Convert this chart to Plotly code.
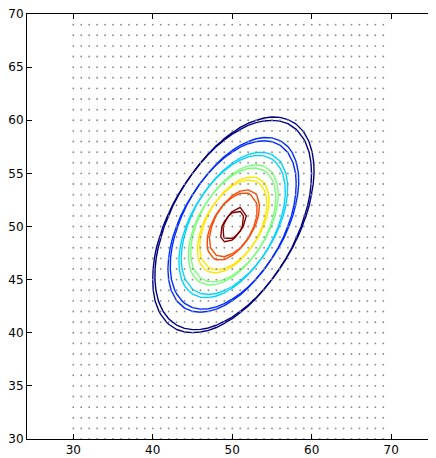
import numpy as np
import plotly.graph_objects as go

# grid of sample points (shown as dots)
grid_x = list(range(30, 70))
grid_y = list(range(30, 70))

# two bivariate Gaussians (true and estimated)
mean_a = [49.98, 50.0]
std_a = [5.0, 5.0]
rho_a = 0.50

mean_b = [50.28, 50.3]
std_b = [5.0, 5.0]
rho_b = 0.50

# contour levels and jet colours
levels = [0.001, 0.002, 0.003, 0.004, 0.005, 0.006, 0.007]
level_colors = ["#000080", "#002bff", "#00d4ff", "#7bff7b", "#ffe600", "#ff4800", "#800000"]

x_ticks = [30, 40, 50, 60, 70]
y_ticks = [30, 35, 40, 45, 50, 55, 60, 65, 70]

X, Y = np.meshgrid(np.array(grid_x, float), np.array(grid_y, float))


def gauss(mean, std, rho):
    dx = (X - mean[0]) / std[0]
    dy = (Y - mean[1]) / std[1]
    q = (dx * dx - 2 * rho * dx * dy + dy * dy) / (1 - rho * rho)
    return np.exp(-0.5 * q) / (2 * np.pi * std[0] * std[1] * np.sqrt(1 - rho * rho))


n = len(levels)
cscale = []
for i, c in enumerate(level_colors):
    cscale.append([i / (n - 1), c])

fig = go.Figure()

fig.add_trace(go.Scatter(
    x=X.ravel(), y=Y.ravel(), mode="markers",
    marker=dict(size=1.8, color="#8a8a8a"),
    hoverinfo="skip", showlegend=False,
))

for mean, std, rho in [(mean_a, std_a, rho_a), (mean_b, std_b, rho_b)]:
    fig.add_trace(go.Contour(
        x=grid_x, y=grid_y, z=gauss(mean, std, rho),
        zmin=levels[0], zmax=levels[-1],
        autocontour=False,
        contours=dict(start=levels[0], end=levels[-1], size=levels[1] - levels[0], coloring="lines"),
        colorscale=cscale, showscale=False,
        line=dict(width=1.4, smoothing=0),
        hoverinfo="skip",
    ))

axis_common = dict(
    showgrid=False, zeroline=False, showline=True, linecolor="black", linewidth=1,
    ticks="inside", ticklen=5, tickwidth=1, tickcolor="black", automargin=False,
    ticklabeloverflow="allow",
    tickfont=dict(family="DejaVu Sans", size=12, color="black"),
)

fig.update_xaxes(range=[24.18, 75.63], tickvals=x_ticks, mirror="ticks", **axis_common)
fig.update_yaxes(range=[30, 70], tickvals=y_ticks, mirror="ticks", **axis_common)

# the page has an 8px body margin, so the figure is sized to fill the rest of the window
fig.update_layout(
    width=428, height=450,
    margin=dict(l=19, r=0, t=6, b=19),
    paper_bgcolor="white", plot_bgcolor="white",
    showlegend=False,
)

fig.write_html("out.html")
